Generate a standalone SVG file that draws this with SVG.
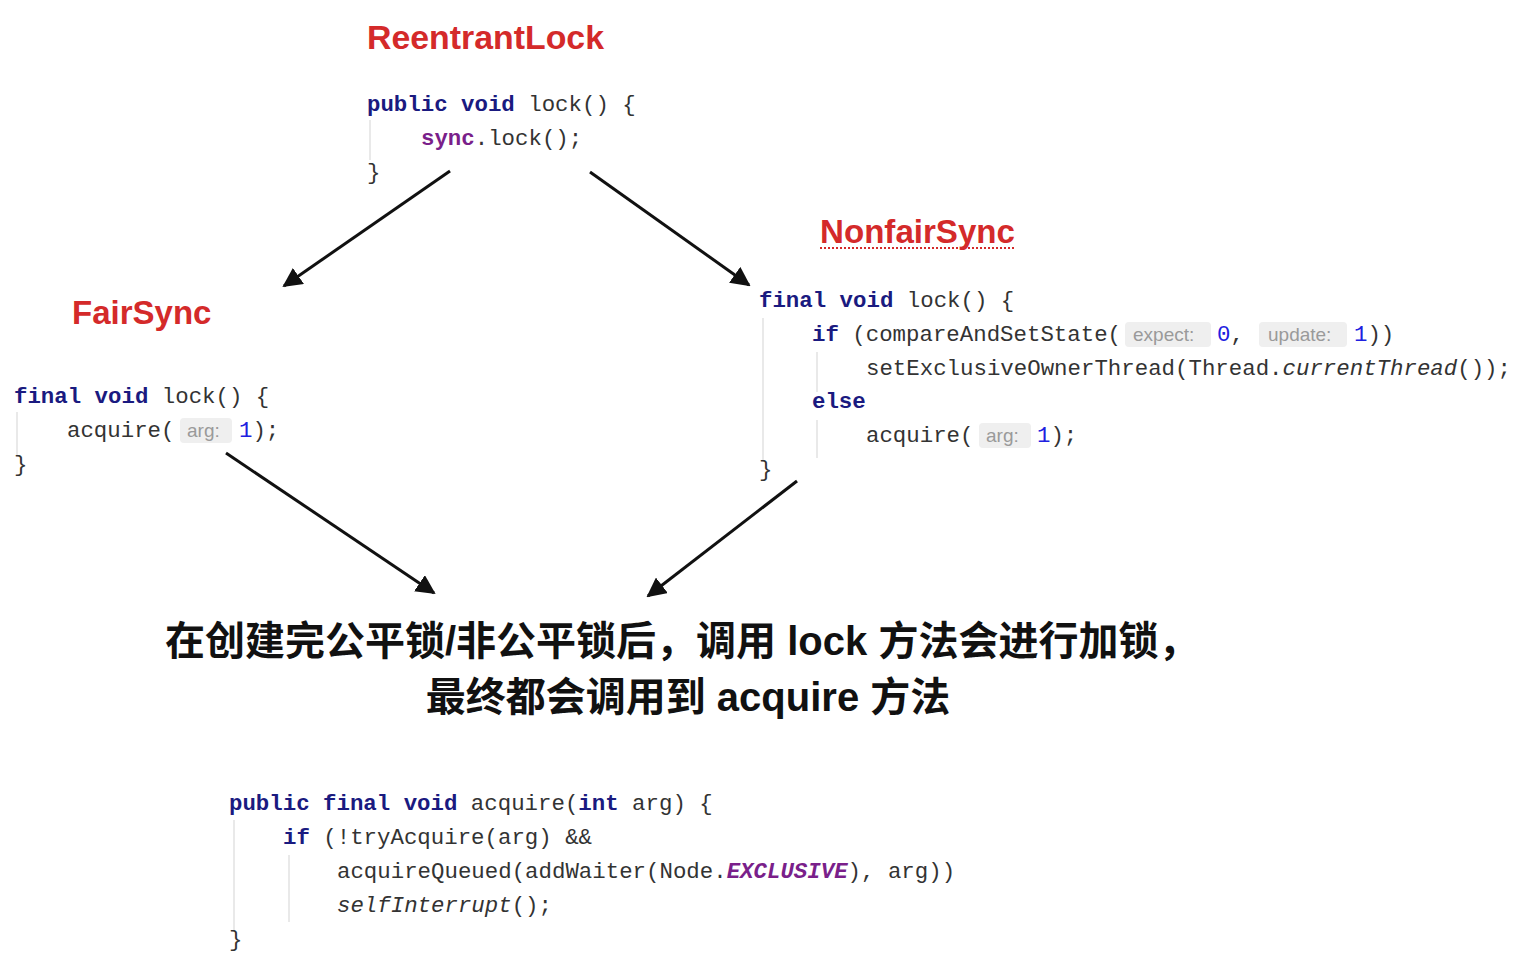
<svg xmlns="http://www.w3.org/2000/svg" width="1522" height="966" viewBox="0 0 1522 966">
<defs>
<style>
.title{font-family:"Liberation Sans",Arial,sans-serif;font-weight:bold;font-size:33px;fill:#d42a2a}
.code{font-family:"Liberation Mono","Courier New",monospace;font-size:22.4px;fill:#333}
.kw{font-weight:bold;fill:#1a1a80}
.pur{font-weight:bold;fill:#7a1f8a}
.num{fill:#2020e0}
.it{font-style:italic}
.hint{font-family:"Liberation Sans",Arial,sans-serif;font-size:19px;fill:#9a9a9a}
.hbox{fill:#efefef}
.guide{stroke:#e2e2e2;stroke-width:1.5}
.cn{font-family:"Liberation Sans","Noto Sans CJK SC",sans-serif;font-weight:bold;font-size:40px;fill:#111}
.conn{stroke:#111;stroke-width:3;fill:none}
</style>
<marker id="ah" viewBox="0 0 10 10" refX="9" refY="5" markerWidth="6.5" markerHeight="6.5" markerUnits="strokeWidth" orient="auto">
<path d="M0,0 L10,5 L0,10 z" fill="#111"/>
</marker>
</defs>
<rect width="1522" height="966" fill="#ffffff"/>

<g id="reentrantlock">
<text class="title" x="367" y="49" textLength="237" lengthAdjust="spacingAndGlyphs">ReentrantLock</text>
<line class="guide" x1="370" y1="120" x2="370" y2="160"/>
<text class="code" x="367" y="111"><tspan class="kw">public void</tspan> lock() {</text>
<text class="code" x="421" y="145"><tspan class="pur">sync</tspan>.lock();</text>
<text class="code" x="367" y="179">}</text>
</g>

<g id="fairsync">
<text class="title" x="72" y="324">FairSync</text>
<line class="guide" x1="17" y1="412" x2="17" y2="455"/>
<text class="code" x="14" y="403"><tspan class="kw">final void</tspan> lock() {</text>
<text class="code" x="67" y="437">acquire(</text>
<rect class="hbox" x="180" y="418" width="52" height="25" rx="4"/>
<text class="hint" x="187" y="437">arg:</text>
<text class="code" x="239" y="437"><tspan class="num">1</tspan>);</text>
<text class="code" x="14" y="471">}</text>
</g>

<g id="nonfairsync">
<text class="title" x="820" y="243" textLength="195" lengthAdjust="spacingAndGlyphs">NonfairSync</text>
<line x1="820" y1="248" x2="1015" y2="248" stroke="#d42a2a" stroke-width="2" stroke-dasharray="2 2"/>
<line class="guide" x1="763" y1="318" x2="763" y2="460"/>
<line class="guide" x1="817" y1="352" x2="817" y2="392"/>
<line class="guide" x1="817" y1="420" x2="817" y2="458"/>
<text class="code" x="759" y="307"><tspan class="kw">final void</tspan> lock() {</text>
<text class="code" x="812" y="341"><tspan class="kw">if</tspan> (compareAndSetState(</text>
<rect class="hbox" x="1125" y="322" width="86" height="25" rx="4"/>
<text class="hint" x="1133" y="341">expect:</text>
<text class="code" x="1217" y="341"><tspan class="num">0</tspan>,</text>
<rect class="hbox" x="1259" y="322" width="88" height="25" rx="4"/>
<text class="hint" x="1268" y="341">update:</text>
<text class="code" x="1354" y="341"><tspan class="num">1</tspan>))</text>
<text class="code" x="866" y="375">setExclusiveOwnerThread(Thread.<tspan class="it">currentThread</tspan>());</text>
<text class="code" x="812" y="408"><tspan class="kw">else</tspan></text>
<text class="code" x="866" y="442">acquire(</text>
<rect class="hbox" x="979" y="423" width="52" height="25" rx="4"/>
<text class="hint" x="986" y="442">arg:</text>
<text class="code" x="1037" y="442"><tspan class="num">1</tspan>);</text>
<text class="code" x="759" y="476">}</text>
</g>

<g id="summary">
<text class="cn" x="165" y="655">在创建完公平锁/非公平锁后，调用 lock 方法会进行加锁，</text>
<text class="cn" x="688" y="711" text-anchor="middle">最终都会调用到 acquire 方法</text>
</g>

<g id="acquire">
<line class="guide" x1="234" y1="820" x2="234" y2="930"/>
<line class="guide" x1="289" y1="855" x2="289" y2="922"/>
<text class="code" x="229" y="810"><tspan class="kw">public final void</tspan> acquire(<tspan class="kw">int</tspan> arg) {</text>
<text class="code" x="283" y="844"><tspan class="kw">if</tspan> (!tryAcquire(arg) &amp;&amp;</text>
<text class="code" x="337" y="878">acquireQueued(addWaiter(Node.<tspan class="pur it">EXCLUSIVE</tspan>), arg))</text>
<text class="code" x="337" y="912"><tspan class="it">selfInterrupt</tspan>();</text>
<text class="code" x="229" y="946">}</text>
</g>

<g id="connectors">
<line class="conn" x1="450" y1="171" x2="284" y2="286" marker-end="url(#ah)"/>
<line class="conn" x1="590" y1="172" x2="749" y2="285" marker-end="url(#ah)"/>
<line class="conn" x1="226" y1="453" x2="434" y2="593" marker-end="url(#ah)"/>
<line class="conn" x1="797" y1="481" x2="648" y2="596" marker-end="url(#ah)"/>
</g>
</svg>
